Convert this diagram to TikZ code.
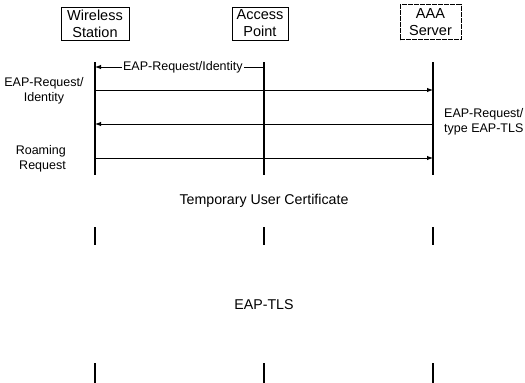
\documentclass[tikz,border=0pt]{standalone}
\usepackage{fontspec}
\setmainfont{Liberation Sans}
\usetikzlibrary{arrows.meta}
\begin{document}
\begin{tikzpicture}[x=1pt,y=-1pt,
  actor/.style={draw,line width=0.8pt,align=center,minimum height=33pt,inner sep=1pt,
    font=\fontsize{14.5}{17}\selectfont},
  life/.style={line width=1.6pt},
  msg/.style={line width=0.9pt,-{Latex[length=6pt,width=4.5pt]}},
  lbl/.style={font=\fontsize{12.5}{15}\selectfont,inner sep=0pt},
  big/.style={font=\fontsize{14.2}{17}\selectfont,inner sep=0pt}]
\useasboundingbox (0,0) rectangle (525,383);
% actors
\node[actor,minimum width=68pt] (ws) at (95,23.5) {Wireless\\Station};
\node[actor,minimum width=56pt] (ap) at (260,23.5) {Access\\Point};
\node[actor,minimum width=61pt,minimum height=35pt,line width=0.6pt,dash pattern=on 5pt off 1pt] (aaa) at (430.5,22) {AAA\\Server};
% lifeline anchors
\foreach \n/\x in {w/95,a/264,s/433}{
  \coordinate (\n1t) at (\x,62);
  \coordinate (\n1b) at (\x,175);
  \coordinate (\n2t) at (\x,227);
  \coordinate (\n2b) at (\x,245);
  \coordinate (\n3t) at (\x,363);
  \coordinate (\n3b) at (\x,383);
}
\foreach \n in {w,a,s}{
  \draw[life] (\n1t) -- (\n1b);
  \draw[life] (\n2t) -- (\n2b);
  \draw[life] (\n3t) -- (\n3b);
}
% message points
\coordinate (m1a) at (264,67);  \coordinate (m1w) at (95,67);
\coordinate (m2w) at (95,90);   \coordinate (m2s) at (433,90);
\coordinate (m3s) at (433,124); \coordinate (m3w) at (95,124);
\coordinate (m4w) at (95,158);  \coordinate (m4s) at (433,158);
\draw[msg] (m1a) -- node[lbl,fill=white,inner xsep=1.5pt,pos=0.48] (l1) {EAP-Request/Identity} (m1w);
\draw[msg] (m2w) -- (m2s);
\draw[msg] (m3s) -- (m3w);
\draw[msg] (m4w) -- (m4s);
% side labels
\node[lbl,align=center] (l2) at (44,91) {EAP-Request/\\Identity};
\node[lbl,align=left,anchor=west] (l3) at (444,122) {EAP-Request/\\type EAP-TLS};
\node[lbl,align=right,anchor=east] (l4) at (66,159) {Roaming\\Request};
% phase labels
\node[big] (tuc) at (264,201) {Temporary User Certificate};
\node[big] (tls) at (264,305) {EAP-TLS};
\end{tikzpicture}
\end{document}
